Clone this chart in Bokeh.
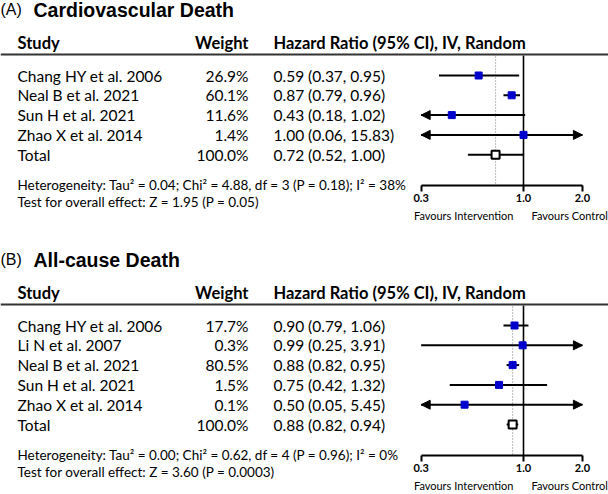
import math
from bokeh.plotting import figure
from bokeh.models import (Range1d, LinearScale, ColumnDataSource, Arrow, NormalHead,
                          FixedTicker, PrintfTickFormatter, Span)
from bokeh.layouts import column
from bokeh.core.properties import value
from bokeh.embed import file_html
from bokeh.resources import INLINE

# ---------------- data ----------------
headers = ["Study", "Weight", "Hazard Ratio (95% CI), IV, Random"]
axis_ticks = [0.3, 1.0, 2.0]
null_hr = 1.0
favours = ["Favours Intervention", "Favours Control"]

a_letter = "(A)"
a_title = "Cardiovascular Death"
a_studies = ["Chang HY et al. 2006", "Neal B et al. 2021", "Sun H et al. 2021", "Zhao X et al. 2014"]
a_weights = [26.9, 60.1, 11.6, 1.4]
a_total_weight = 100.0
a_hr = [0.59, 0.87, 0.43, 1.00]
a_lo = [0.37, 0.79, 0.18, 0.06]
a_hi = [0.95, 0.96, 1.02, 15.83]
a_arrow_lo = [False, False, True, True]
a_arrow_hi = [False, False, False, True]
a_total = [0.72, 0.52, 1.00]
a_het = "Heterogeneity: Tau\u00b2 = 0.04; Chi\u00b2 = 4.88, df = 3 (P = 0.18); I\u00b2 = 38%"
a_test = "Test for overall effect: Z = 1.95 (P = 0.05)"

b_letter = "(B)"
b_title = "All-cause Death"
b_studies = ["Chang HY et al. 2006", "Li N et al. 2007", "Neal B et al. 2021", "Sun H et al. 2021", "Zhao X et al. 2014"]
b_weights = [17.7, 0.3, 80.5, 1.5, 0.1]
b_total_weight = 100.0
b_hr = [0.90, 0.99, 0.88, 0.75, 0.50]
b_lo = [0.79, 0.25, 0.82, 0.42, 0.05]
b_hi = [1.06, 3.91, 0.95, 1.32, 5.45]
b_arrow_lo = [False, False, False, False, True]
b_arrow_hi = [False, True, False, False, True]
b_total = [0.88, 0.82, 0.94]
b_het = "Heterogeneity: Tau\u00b2 = 0.00; Chi\u00b2 = 0.62, df = 4 (P = 0.96); I\u00b2 = 0%"
b_test = "Test for overall effect: Z = 3.60 (P = 0.0003)"

# ---------------- layout / style ----------------
W = 608
PX_PER_LN = 85.0
X_ONE = 523.0
XMIN, XMAX = axis_ticks[0], axis_ticks[-1]
COL_STUDY, COL_WEIGHT, COL_HR = 17, 248, 273
ROW_H = 19.8
FONT = "Lato"
BLUE = "#0000CC"
TXT_COLOR = "#000000"


def panel(letter, title, studies, weights, total_weight, hr, lo, hi, arrow_lo, arrow_hi,
          total, het, test, height, top):
    n = len(studies)
    y_head = top + 33.5
    y_line = top + 45
    ys = [top + 66 + ROW_H * i for i in range(n)]
    y_total = top + 66 + ROW_H * n
    y_axis = y_total + 30.5
    y_test = y_axis + 16.5
    y_fav = y_axis + 30.5

    p = figure(width=W, height=height, x_axis_type="log",
               x_range=Range1d(math.exp(-X_ONE / PX_PER_LN), math.exp((W - X_ONE) / PX_PER_LN)),
               y_range=Range1d(height, 0), output_backend="svg", toolbar_location=None,
               min_border_left=0, min_border_right=0, min_border_top=0, min_border_bottom=0,
               y_axis_location=None)
    p.outline_line_color = None
    p.grid.visible = False
    p.background_fill_color = "white"
    p.border_fill_color = "white"
    p.extra_x_ranges = {"px": Range1d(0, W)}
    p.extra_x_scales = {"px": LinearScale()}

    # axis (drawn inside the frame at the forest-plot baseline)
    ax = p.xaxis[0]
    ax.fixed_location = y_axis
    ax.ticker = FixedTicker(ticks=axis_ticks, minor_ticks=[])
    ax.formatter = PrintfTickFormatter(format="%.1f")
    ax.bounds = (XMIN, XMAX)
    ax.major_tick_out = 6
    ax.major_tick_in = 0
    ax.minor_tick_line_color = None
    ax.axis_line_width = 2
    ax.axis_line_color = "black"
    ax.major_tick_line_width = 2
    ax.major_tick_line_color = "black"
    ax.major_label_standoff = 3
    ax.major_label_text_font = FONT
    ax.major_label_text_font_style = "bold"
    ax.major_label_text_font_size = "11px"
    ax.major_label_text_color = TXT_COLOR

    # title
    p.text(x=[0], y=[top], text=[letter], x_range_name="px", text_font=value("Liberation Sans"),
           text_font_size="16px", text_baseline="middle", text_color=TXT_COLOR)
    p.text(x=[33], y=[top], text=[title], x_range_name="px", text_font=value("Liberation Sans"),
           text_font_size="19.5px", text_font_style="bold", text_baseline="middle", text_color=TXT_COLOR)

    # header
    p.text(x=[COL_STUDY, COL_HR], y=[y_head, y_head], text=[headers[0], headers[2]], x_range_name="px",
           text_font=value(FONT), text_font_size="16.5px", text_font_style="bold",
           text_baseline="middle", text_color=TXT_COLOR)
    p.text(x=[COL_WEIGHT], y=[y_head], text=[headers[1]], x_range_name="px",
           text_font=value(FONT), text_font_size="16.5px", text_font_style="bold",
           text_baseline="middle", text_align="right", text_color=TXT_COLOR)
    p.add_layout(Span(location=y_line, dimension="width", line_color="#333333", line_width=2))

    # table rows
    names = studies + ["Total"]
    wtxt = [f"{w:.1f}%" for w in weights] + [f"{total_weight:.1f}%"]
    hrtxt = [f"{h:.2f} ({l:.2f}, {u:.2f})" for h, l, u in zip(hr, lo, hi)] + \
            [f"{total[0]:.2f} ({total[1]:.2f}, {total[2]:.2f})"]
    yy = ys + [y_total]
    p.text(x=[COL_STUDY] * len(yy), y=yy, text=names, x_range_name="px", text_font=value(FONT),
           text_font_size="15.5px", text_baseline="middle", text_color=TXT_COLOR)
    p.text(x=[COL_WEIGHT] * len(yy), y=yy, text=wtxt, x_range_name="px", text_font=value(FONT),
           text_font_size="15.5px", text_baseline="middle", text_align="right", text_color=TXT_COLOR)
    p.text(x=[COL_HR] * len(yy), y=yy, text=hrtxt, x_range_name="px", text_font=value(FONT),
           text_font_size="15.5px", text_baseline="middle", text_color=TXT_COLOR)

    # reference lines
    p.segment(x0=[null_hr], x1=[null_hr], y0=[y_line + 1], y1=[y_axis], line_color="black", line_width=1.6)
    p.segment(x0=[total[0]], x1=[total[0]], y0=[y_line + 2], y1=[y_axis], line_color="#777777",
              line_width=1, line_dash="1 2")

    # CIs
    x0 = [max(l, XMIN) for l in lo] + [max(total[1], XMIN)]
    x1 = [min(u, XMAX) for u in hi] + [min(total[2], XMAX)]
    p.segment(x0=x0, x1=x1, y0=yy, y1=yy, line_color="black", line_width=2)

    ax0, ay0, ax1, ay1 = [], [], [], []
    for h, y, al, ah in zip(hr, ys, arrow_lo, arrow_hi):
        if al:
            ax0.append(h); ay0.append(y); ax1.append(XMIN); ay1.append(y)
        if ah:
            ax0.append(h); ay0.append(y); ax1.append(XMAX); ay1.append(y)
    if ax0:
        src = ColumnDataSource(dict(x0=ax0, y0=ay0, x1=ax1, y1=ay1))
        p.add_layout(Arrow(source=src, x_start="x0", y_start="y0", x_end="x1", y_end="y1",
                           line_alpha=0,
                           end=NormalHead(size=9, fill_color="black", line_color="black", line_width=1)))

    p.scatter(x=hr, y=ys, marker="square", size=7, fill_color=BLUE, line_color=BLUE)
    p.scatter(x=[total[0]], y=[y_total], marker="square", size=8, fill_color="white",
              line_color="black", line_width=2)

    # footnotes
    p.text(x=[COL_STUDY, COL_STUDY], y=[y_axis, y_test], text=[het, test], x_range_name="px",
           text_font=value(FONT), text_font_size="13.5px", text_baseline="middle", text_color=TXT_COLOR)
    # favours
    p.text(x=[null_hr], y=[y_fav], text=[favours[0]], x_offset=-10, text_font=value(FONT),
           text_font_size="11px", text_baseline="middle", text_align="right", text_color=TXT_COLOR)
    p.text(x=[null_hr], y=[y_fav], text=[favours[1]], x_offset=8, text_font=value(FONT),
           text_font_size="11px", text_baseline="middle", text_align="left", text_color=TXT_COLOR)
    return p


pa = panel(a_letter, a_title, a_studies, a_weights, a_total_weight, a_hr, a_lo, a_hi,
           a_arrow_lo, a_arrow_hi, a_total, a_het, a_test, height=242, top=9)
pb = panel(b_letter, b_title, b_studies, b_weights, b_total_weight, b_hr, b_lo, b_hi,
           b_arrow_lo, b_arrow_hi, b_total, b_het, b_test, height=250, top=17)

layout = column(pa, pb, spacing=0)
open("out.html", "w").write(file_html(layout, INLINE))
